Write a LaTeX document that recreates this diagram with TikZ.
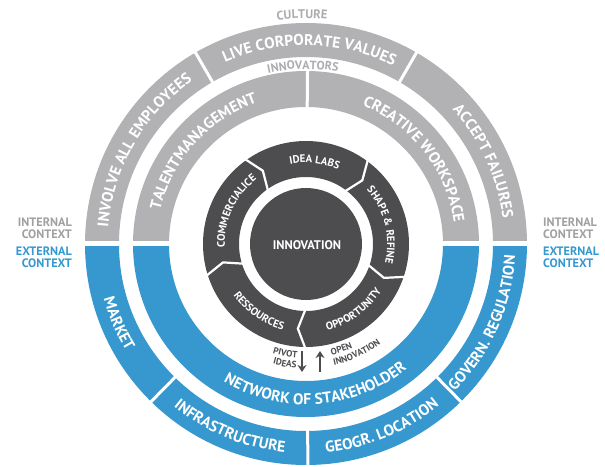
\documentclass[tikz,border=0pt]{standalone}
\usepackage{fontspec}
\setmainfont{PT Sans}
\usetikzlibrary{decorations.text,arrows.meta}
\definecolor{ringgray}{RGB}{178,178,180}
\definecolor{ringblue}{RGB}{54,152,206}
\definecolor{ringdark}{RGB}{77,77,80}
\definecolor{labelgray}{RGB}{172,172,174}
\definecolor{ctxgray}{RGB}{160,160,162}
% clockwise arc text (top half): radius, centre angle, half span, colour, size, text
\newcommand{\cwtext}[6]{\path[decorate, decoration={text along path, text align=center, text color=#4, text={|\fontsize{#5}{#5}\selectfont\bfseries|#6}}] ({#2+#3}:#1) arc[start angle={#2+#3}, end angle={#2-#3}, radius=#1];}
% counter-clockwise arc text (bottom half)
\newcommand{\ccwtext}[6]{\path[decorate, decoration={text along path, text align=center, text color=#4, text={|\fontsize{#5}{#5}\selectfont\bfseries|#6}}] ({#2-#3}:#1) arc[start angle={#2-#3}, end angle={#2+#3}, radius=#1];}
\begin{document}
\begin{tikzpicture}[x=1pt,y=1pt,
  divider/.style={white, line width=3pt},
  chevron/.style={white, line width=2.2pt, line join=miter},
  ctx/.style={font=\fontsize{12.2}{12.2}\selectfont\bfseries, inner sep=0pt},
  flowarrow/.style={ringdark, line width=2.3pt, -{Stealth[length=7pt,width=9pt]}}]
\useasboundingbox (-306,-222) rectangle (299,244);
% ---------- rings ----------
\fill[ringgray] (0:221) arc[start angle=0, end angle=180, radius=221] -- (180:187) arc[start angle=180, end angle=0, radius=187] -- cycle;
\fill[ringgray] (0:173) arc[start angle=0, end angle=180, radius=173] -- (180:137) arc[start angle=180, end angle=0, radius=137] -- cycle;
\fill[ringblue] (180:221) arc[start angle=180, end angle=360, radius=221] -- (0:187) arc[start angle=360, end angle=180, radius=187] -- cycle;
\fill[ringblue] (180:173) arc[start angle=180, end angle=360, radius=173] -- (0:137) arc[start angle=360, end angle=180, radius=137] -- cycle;
\fill[white] (-232,-2) rectangle (232,3);
% segment dividers
\draw[divider] (120:184) -- (120:224);
\draw[divider] (60:184) -- (60:224);
\draw[divider] (89.5:134) -- (89.5:176);
\draw[divider] (-134.5:184) -- (-134.5:224);
\draw[divider] (-89.5:184) -- (-89.5:224);
\draw[divider] (-45.5:184) -- (-45.5:224);
% ---------- innovation cycle ----------
\fill[ringdark, even odd rule] (0,0) circle[radius=103] (0,0) circle[radius=67];
\fill[ringdark] (0,0) circle[radius=56];
\foreach \a in {126,54,-18,-90,-162}{
  \draw[chevron] (\a:106) -- ({\a-5.5}:85) -- (\a:64);
}
\node[font=\fontsize{12.5}{12.5}\selectfont\bfseries, text=white] (innov) at (1,-1) {INNOVATION};
% ---------- ring texts ----------
\cwtext{198.5}{150}{60}{white}{15.5}{INVOLVE ALL EMPLOYEES}
\cwtext{198.5}{89}{60}{white}{15.5}{LIVE CORPORATE VALUES}
\cwtext{198.5}{25}{60}{white}{15.5}{ACCEPT FAILURES}
\cwtext{149.5}{138}{60}{white}{15.5}{TALENTMANAGEMENT}
\cwtext{149.5}{38}{60}{white}{15.5}{CREATIVE WORKSPACE}
\ccwtext{209.5}{-157}{40}{white}{15.5}{MARKET}
\ccwtext{209.5}{-112.5}{40}{white}{15.5}{INFRASTRUCTURE}
\ccwtext{209.5}{-67.5}{40}{white}{15.5}{GEOGR. LOCATION}
\ccwtext{209.5}{-24}{40}{white}{15.5}{GOVERN. REGULATION}
\ccwtext{160.5}{-86}{70}{white}{15.5}{NETWORK OF STAKEHOLDER}
\cwtext{225.5}{91}{30}{labelgray}{12.5}{CULTURE}
\cwtext{175}{91}{30}{labelgray}{12}{INNOVATORS}
% cycle texts
\cwtext{81.2}{84}{45}{white}{10.8}{IDEA LABS}
\cwtext{81.2}{14}{45}{white}{10.8}{SHAPE {\&} REFINE}
\ccwtext{88.8}{-54}{45}{white}{10.8}{OPPORTUNITY}
\ccwtext{88.8}{-125}{45}{white}{10.8}{RESSOURCES}
\cwtext{81.2}{155}{45}{white}{10.8}{COMMERCIALICE}
% ---------- pivot / open innovation ----------
\path[decorate, decoration={text along path, text align=right, text color=ringdark, text={|\fontsize{9.2}{9.2}\selectfont\bfseries|PIVOT}}] (-135:114) arc[start angle=-135, end angle=-94.5, radius=114];
\path[decorate, decoration={text along path, text align=right, text color=ringdark, text={|\fontsize{9.2}{9.2}\selectfont\bfseries|IDEAS}}] (-135:124.5) arc[start angle=-135, end angle=-94.5, radius=124.5];
\path[decorate, decoration={text along path, text align=left, text color=ringdark, text={|\fontsize{9.2}{9.2}\selectfont\bfseries|OPEN}}] (-77:114) arc[start angle=-77, end angle=-30, radius=114];
\path[decorate, decoration={text along path, text align=left, text color=ringdark, text={|\fontsize{9.2}{9.2}\selectfont\bfseries|INNOVATION}}] (-77:124.5) arc[start angle=-77, end angle=-30, radius=124.5];
\coordinate (pivtop) at (-4,-107);
\coordinate (pivbot) at (-4,-128);
\coordinate (opentop) at (14,-107);
\coordinate (openbot) at (14,-128);
\draw[flowarrow] (pivtop) -- (pivbot);
\draw[flowarrow] (openbot) -- (opentop);
% ---------- context labels ----------
\node[ctx, text=ctxgray, anchor=base east] (lint1) at (-234,17) {INTERNAL};
\node[ctx, text=ctxgray, anchor=base east] (lint2) at (-234,5.5) {CONTEXT};
\node[ctx, text=ringblue, anchor=base east] (lext1) at (-234,-11.5) {EXTERNAL};
\node[ctx, text=ringblue, anchor=base east] (lext2) at (-234,-23) {CONTEXT};
\node[ctx, text=ctxgray, anchor=base west] (rint1) at (237,17) {INTERNAL};
\node[ctx, text=ctxgray, anchor=base west] (rint2) at (237,5.5) {CONTEXT};
\node[ctx, text=ringblue, anchor=base west] (rext1) at (237,-11.5) {EXTERNAL};
\node[ctx, text=ringblue, anchor=base west] (rext2) at (237,-23) {CONTEXT};
\end{tikzpicture}
\end{document}
